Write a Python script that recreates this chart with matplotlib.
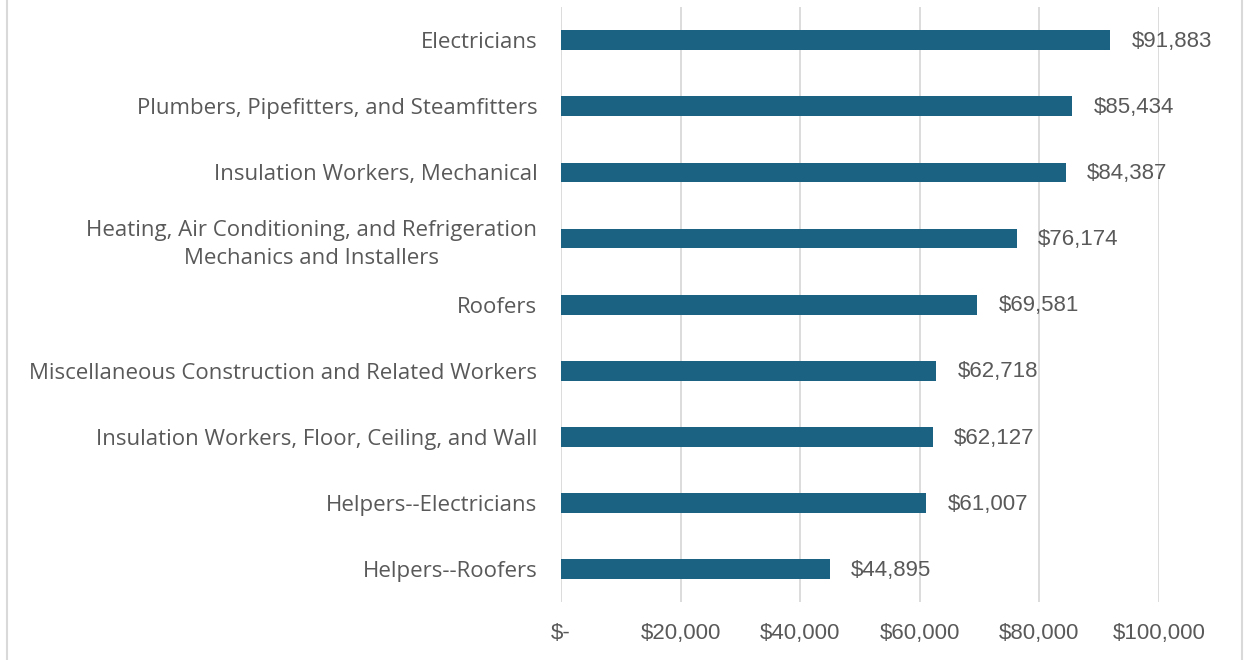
import matplotlib.pyplot as plt
from matplotlib.lines import Line2D
from matplotlib.ticker import FuncFormatter

# Median annual wage by occupation
occupations = ['Electricians',
               'Plumbers, Pipefitters, and Steamfitters',
               'Insulation Workers, Mechanical',
               'Heating, Air Conditioning, and Refrigeration\nMechanics and Installers',
               'Roofers',
               'Miscellaneous Construction and Related Workers',
               'Insulation Workers, Floor, Ceiling, and Wall',
               'Helpers--Electricians',
               'Helpers--Roofers']
wages = [91883, 85434, 84387, 76174, 69581, 62718, 62127, 61007, 44895]
x_ticks = [0, 20000, 40000, 60000, 80000, 100000]

bar_color = '#1B6182'
text_color = '#595959'
label_font = ['Open Sans', 'DejaVu Sans']
num_font = ['Liberation Sans', 'DejaVu Sans']


def money(v, pos=None):
    if v == 0:
        return '$-'
    return f'${v:,.0f}'


fig = plt.figure(figsize=(12.44, 6.60), dpi=100)
ax = fig.add_axes([0.451, 0.088, 0.4807, 0.901])

pos = list(range(len(occupations)))
ax.barh(pos, wages, height=0.3, color=bar_color, zorder=3)
ax.set_ylim(len(occupations) - 0.5, -0.5)
ax.set_xlim(0, 100000)

ax.set_yticks(pos)
ax.set_yticklabels(occupations, fontsize=16, color=text_color,
                   family=label_font, ha='right', multialignment='center',
                   linespacing=1.45)
ax.tick_params(axis='y', length=0, pad=17)

ax.set_xticks(x_ticks)
ax.xaxis.set_major_formatter(FuncFormatter(money))
ax.tick_params(axis='x', length=0, pad=15, labelsize=16, labelcolor=text_color)
for t in ax.get_xticklabels():
    t.set_family(num_font)

ax.grid(axis='x', color='#D9D9D9', linewidth=1.3, zorder=0)
for s in ax.spines.values():
    s.set_visible(False)

# value labels at the end of each bar
for p, w in zip(pos, wages):
    ax.text(w + 3600, p + 0.02, money(w), va='center', ha='left', fontsize=16,
            color=text_color, family=num_font)

# chart frame edges
fig.add_artist(Line2D([0.0060, 0.0060], [0, 1], color='#D9D9D9', linewidth=1.5,
                      transform=fig.transFigure))
fig.add_artist(Line2D([0.9980, 0.9980], [0, 1], color='#D9D9D9', linewidth=1.5,
                      transform=fig.transFigure))

fig.savefig('out.png', dpi=100)
